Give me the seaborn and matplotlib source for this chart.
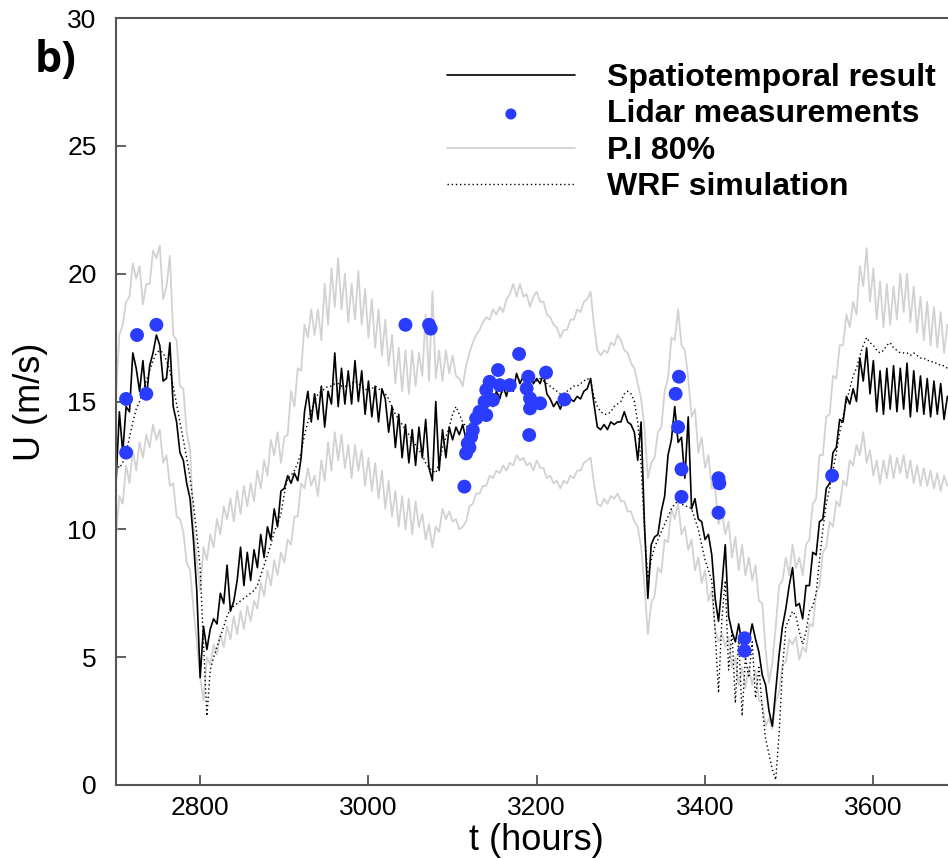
import numpy as np
import pandas as pd
import matplotlib
matplotlib.use("Agg")
import matplotlib.pyplot as plt
import seaborn as sns

# time grid (hours), 4-hour sampling
hours = np.arange(2700, 3692, 4)

spatio = [
    11.8, 14.6, 13.0, 14.8, 14.6, 16.9, 16.3, 15.4, 16.6, 15.1,
    16.4, 16.9, 17.6, 17.2, 15.8, 15.9, 17.3, 14.8, 14.2, 13.0,
    12.7, 11.8, 11.2, 9.6, 7.6, 4.2, 6.2, 5.3, 6.1, 6.5,
    6.3, 7.5, 7.1, 8.6, 6.8, 7.2, 8.0, 9.3, 7.8, 9.1,
    8.0, 9.2, 8.5, 9.8, 8.9, 10.1, 9.6, 10.8, 10.1, 11.5,
    11.6, 12.1, 11.8, 12.2, 11.9, 12.8, 14.6, 15.4, 14.2, 15.3,
    14.3, 15.6, 14.0, 15.4, 14.9, 16.9, 14.8, 16.3, 14.9, 16.2,
    14.9, 16.6, 15.0, 16.2, 14.5, 15.8, 14.4, 15.6, 14.2, 15.5,
    15.1, 13.8, 14.8, 13.2, 14.5, 12.8, 14.1, 12.6, 13.9, 12.5,
    14.0, 12.8, 14.3, 12.4, 11.9, 15.0, 12.3, 13.9, 12.8, 14.0,
    13.5, 14.0, 13.7, 14.1, 13.5, 13.9, 13.8, 14.6, 14.3, 14.9,
    14.7, 15.2, 14.8, 15.4, 15.1, 15.6, 15.2, 15.8, 15.4, 16.1,
    15.7, 16.0, 15.5, 16.1, 15.7, 15.9, 15.7, 16.1, 15.3, 15.1,
    14.8, 15.0, 14.7, 15.1, 14.9, 15.1, 15.0, 15.2, 15.1, 15.4,
    15.5, 15.9, 14.9, 14.0, 13.9, 14.1, 13.9, 14.2, 14.1, 14.2,
    14.2, 14.6, 14.2, 14.1, 13.8, 12.7, 14.2, 10.2, 7.3, 9.4,
    9.7, 9.8, 10.7, 11.3, 12.9, 13.5, 14.8, 13.4, 13.6, 12.0,
    14.4, 10.8, 11.2, 10.4, 10.3, 9.6, 9.8, 9.0, 7.3, 6.4,
    7.8, 9.4, 6.6, 6.0, 5.6, 6.3, 5.5, 5.9, 5.6, 6.3,
    5.7, 5.2, 4.3, 3.9, 2.9, 2.3, 3.7, 5.1, 6.2, 6.9,
    7.8, 8.5, 7.0, 7.1, 6.5, 7.8, 7.8, 9.1, 9.0, 10.3,
    10.4, 11.6, 11.8, 13.0, 13.2, 14.3, 14.2, 15.2, 14.9, 15.5,
    15.0, 16.7, 15.8, 17.1, 15.3, 16.6, 14.6, 16.2, 14.5, 16.3,
    14.7, 16.4, 14.6, 16.3, 14.7, 16.5, 14.4, 16.2, 14.6, 16.0,
    14.5, 15.9, 14.4, 15.8, 14.5, 15.7, 14.3, 15.2,
]

pi_upper = [
    15.2, 17.6, 18.0, 18.9, 19.1, 20.4, 19.8, 20.3, 18.8, 19.6,
    19.6, 20.9, 20.6, 21.1, 19.0, 19.5, 20.7, 17.6, 17.4, 15.6,
    15.5, 13.8, 13.1, 10.2, 8.8, 7.6, 9.3, 8.8, 9.8, 9.3,
    10.4, 9.8, 10.9, 10.4, 11.2, 10.3, 11.5, 10.6, 11.7, 10.9,
    11.8, 11.1, 12.3, 11.6, 12.7, 12.1, 13.5, 12.9, 13.8, 12.6,
    13.6, 13.7, 15.4, 14.8, 16.3, 16.2, 18.0, 17.5, 18.6, 17.6,
    18.6, 17.4, 19.6, 18.0, 20.2, 18.7, 20.6, 18.6, 20.0, 18.1,
    19.6, 18.2, 20.1, 18.0, 19.4, 17.5, 19.0, 17.1, 18.6, 16.8,
    18.2, 16.4, 17.6, 15.7, 17.1, 15.4, 17.0, 15.3, 17.0, 15.6,
    16.9, 16.0, 18.4, 15.8, 19.3, 15.9, 17.0, 15.8, 17.0, 16.1,
    16.8, 16.0, 15.9, 15.6, 16.4, 16.9, 17.3, 17.6, 17.8, 18.1,
    18.3, 18.2, 18.6, 18.4, 18.7, 18.5, 19.0, 19.2, 19.6, 19.1,
    19.6, 19.1, 19.2, 18.7, 19.1, 19.3, 18.9, 18.9, 18.4, 18.3,
    18.0, 17.9, 17.5, 17.8, 17.8, 18.2, 18.2, 18.6, 18.5, 18.9,
    19.0, 19.3, 18.0, 17.0, 16.8, 17.0, 16.9, 17.3, 17.2, 17.6,
    17.4, 17.0, 16.9, 16.5, 16.3, 15.7, 15.1, 14.0, 12.0, 12.6,
    12.8, 13.8, 14.0, 15.4, 15.9, 17.5, 17.4, 18.6, 17.2, 17.0,
    15.9, 14.4, 14.7, 13.0, 13.6, 12.4, 12.9, 11.6, 11.6, 10.2,
    10.7, 9.8, 10.3, 8.9, 9.7, 8.4, 9.4, 8.2, 8.9, 8.0,
    8.6, 7.2, 7.1, 5.3, 4.0, 4.8, 6.2, 7.8, 8.0, 8.9,
    8.2, 9.4, 8.5, 8.9, 8.2, 9.4, 9.6, 11.0, 11.2, 12.9,
    12.9, 14.4, 14.5, 16.0, 15.9, 17.2, 17.2, 18.4, 17.9, 18.9,
    18.4, 20.3, 19.5, 21.0, 18.9, 20.2, 18.2, 19.7, 17.9, 19.6,
    18.0, 19.5, 18.2, 20.0, 18.5, 20.0, 18.1, 19.5, 17.7, 19.1,
    17.4, 18.9, 17.2, 18.7, 17.1, 18.5, 16.9, 18.0,
]

pi_lower = [
    9.7, 11.3, 11.0, 12.5, 11.8, 13.1, 12.3, 13.4, 12.8, 13.7,
    13.2, 14.1, 13.5, 13.9, 12.6, 12.9, 11.7, 11.8, 10.5, 10.4,
    9.9, 8.7, 8.4, 6.9, 5.6, 4.2, 3.3, 5.0, 4.7, 5.5,
    5.1, 5.9, 5.4, 6.2, 5.7, 6.6, 5.9, 6.8, 6.1, 7.0,
    6.4, 7.2, 6.9, 7.9, 7.4, 8.4, 7.8, 8.8, 8.2, 9.1,
    8.7, 9.6, 9.4, 10.5, 10.5, 11.8, 11.6, 12.4, 11.7, 12.1,
    11.3, 12.7, 11.9, 13.4, 12.3, 13.8, 12.7, 13.7, 12.4, 13.3,
    12.0, 13.3, 12.3, 13.1, 11.7, 12.8, 11.5, 12.6, 11.2, 12.3,
    10.8, 11.9, 10.5, 11.5, 10.1, 11.3, 10.0, 11.2, 9.8, 11.1,
    10.1, 10.6, 9.6, 10.2, 9.3, 10.1, 9.9, 10.8, 10.4, 10.7,
    10.3, 10.4, 10.0, 10.1, 10.3, 10.9, 11.0, 11.4, 11.4, 11.7,
    11.7, 12.1, 12.0, 12.3, 12.2, 12.5, 12.3, 12.6, 12.5, 12.9,
    12.7, 12.8, 12.5, 12.6, 12.3, 12.7, 12.4, 12.4, 12.0, 12.1,
    11.8, 11.9, 11.6, 11.9, 11.8, 12.1, 12.0, 12.3, 12.3, 12.6,
    12.7, 12.8, 11.8, 11.0, 10.9, 11.2, 11.0, 11.3, 11.2, 11.4,
    11.1, 11.1, 10.7, 10.7, 10.3, 10.1, 9.3, 7.8, 5.9, 7.1,
    7.4, 8.5, 8.3, 9.6, 9.5, 10.8, 10.4, 11.0, 9.8, 10.1,
    9.2, 9.6, 8.4, 8.9, 7.9, 8.4, 7.2, 7.6, 6.1, 5.6,
    5.9, 5.4, 5.8, 4.6, 5.0, 3.9, 4.6, 3.8, 4.6, 3.9,
    4.5, 3.3, 3.2, 2.3, 2.6, 2.2, 3.3, 3.6, 4.7, 4.8,
    5.7, 5.5, 5.8, 4.9, 5.4, 5.2, 6.3, 6.2, 7.5, 7.8,
    9.1, 9.3, 10.3, 10.1, 11.1, 10.9, 11.9, 11.7, 12.7, 12.5,
    13.3, 12.9, 13.8, 12.6, 13.1, 12.1, 12.7, 11.8, 12.7, 12.0,
    12.9, 12.0, 12.8, 12.2, 12.9, 12.0, 12.7, 11.8, 12.5, 11.7,
    12.4, 11.7, 12.3, 11.6, 12.2, 11.5, 12.1, 11.7,
]

wrf = [
    12.6, 12.4, 12.6, 13.0, 13.6, 14.2, 14.7, 15.0, 15.4, 15.8,
    16.2, 16.6, 16.9, 17.0, 16.9, 16.6, 16.2, 15.6, 14.9, 14.2,
    13.5, 12.8, 12.0, 11.0, 9.8, 8.5, 5.5, 2.7, 4.5, 5.0,
    5.4, 5.8, 6.2, 6.6, 6.9, 7.0, 7.1, 7.2, 7.3, 7.4,
    7.5, 7.6, 7.8, 8.2, 8.6, 9.0, 9.4, 9.9, 10.2, 10.6,
    11.4, 12.0, 12.1, 12.3, 12.6, 13.0, 13.7, 14.2, 14.6, 15.0,
    15.3, 15.4, 15.5, 15.6, 15.6, 15.7, 15.7, 15.6, 15.6, 15.6,
    15.7, 15.8, 15.7, 15.6, 15.5, 15.4, 15.5, 15.6, 15.5, 15.4,
    15.3, 15.1, 14.8, 14.5, 14.3, 14.1, 13.9, 13.7, 13.5, 13.3,
    13.1, 12.9, 12.6, 12.4, 12.3, 12.2, 12.6, 13.2, 13.6, 14.0,
    14.5, 14.8, 14.5, 14.2, 14.0, 14.1, 14.2, 14.3, 14.5, 14.7,
    14.9, 15.0, 15.1, 15.2, 15.3, 15.4, 15.5, 15.6, 15.7, 15.8,
    15.9, 15.9, 15.8, 15.8, 15.7, 15.8, 15.9, 15.8, 15.7, 15.6,
    15.5, 15.4, 15.3, 15.3, 15.4, 15.5, 15.6, 15.6, 15.7, 15.8,
    15.9, 15.8, 15.2, 14.8, 14.6, 14.5, 14.5, 14.6, 14.8, 14.9,
    15.0, 15.3, 15.4, 15.3, 15.0, 14.2, 12.5, 10.0, 8.1, 8.8,
    9.3, 9.6, 9.9, 10.2, 10.5, 10.8, 11.0, 11.1, 11.0, 10.9,
    10.9, 10.8, 10.4, 10.0, 9.4, 8.8, 8.4, 8.0, 6.0, 3.6,
    6.5, 8.0, 4.5, 6.0, 3.2, 5.8, 2.7, 5.0, 4.2, 5.6,
    3.4, 4.6, 3.0, 1.8, 1.2, 0.6, 0.2, 2.0, 4.5, 6.2,
    6.5, 6.8, 6.6, 6.0, 5.5, 6.0, 6.8, 7.0, 7.5, 8.8,
    10.0, 11.0, 11.6, 12.3, 13.0, 13.8, 14.4, 15.0, 15.5, 16.0,
    16.3, 16.8, 17.2, 17.5, 17.3, 17.2, 17.0, 16.9, 17.0, 17.2,
    17.3, 17.1, 17.0, 16.9, 16.9, 16.9, 16.8, 16.9, 16.8, 16.7,
    16.7, 16.6, 16.6, 16.5, 16.5, 16.4, 16.4, 16.3,
]

lidar_t = [2712, 2712, 2725, 2736, 2748, 3044, 3072, 3074,
           3114, 3116, 3118, 3120, 3122, 3124, 3128, 3132,
           3140, 3138, 3148, 3140, 3144, 3154, 3156, 3168,
           3179, 3190, 3188, 3192, 3192, 3204, 3191, 3211, 3233,
           3369, 3365, 3368, 3372, 3372, 3416, 3417, 3416,
           3447, 3447, 3551]
lidar_u = [13.0, 15.1, 17.6, 15.3, 18.0, 18.0, 18.0, 17.85,
           11.67, 12.97, 13.36, 13.2, 13.62, 13.88, 14.34, 14.6,
           14.47, 14.99, 15.06, 15.45, 15.77, 16.23, 15.64, 15.64,
           16.86, 15.97, 15.51, 15.12, 14.73, 14.93, 13.69, 16.13, 15.08,
           15.97, 15.3, 14.0, 12.35, 11.27, 12.0, 11.8, 10.65,
           5.74, 5.25, 12.1]

x_ticks = [2800, 3000, 3200, 3400, 3600]
y_ticks = [0, 5, 10, 15, 20, 25, 30]

df = pd.DataFrame({"t": hours, "spatio": spatio, "upper": pi_upper,
                   "lower": pi_lower, "wrf": wrf})
pts = pd.DataFrame({"t": lidar_t, "u": lidar_u})

sns.set_style("white")
plt.rcParams["font.family"] = ["Liberation Sans", "DejaVu Sans"]
plt.rcParams["text.color"] = "black"
plt.rcParams["axes.labelcolor"] = "black"

fig = plt.figure(figsize=(9.48, 8.58), dpi=100)
ax = fig.add_axes([116 / 948, 73 / 858, 841.5 / 948, 767 / 858])

gray = "#d2d2d2"
sns.lineplot(data=df, x="t", y="upper", ax=ax, color=gray, lw=1.3,
             estimator=None, label="P.I 80%")
sns.lineplot(data=df, x="t", y="lower", ax=ax, color=gray, lw=1.3,
             estimator=None, legend=False)
sns.lineplot(data=df, x="t", y="wrf", ax=ax, color="black", lw=1.0,
             linestyle=(0, (1, 2)), estimator=None, label="WRF simulation")
sns.lineplot(data=df, x="t", y="spatio", ax=ax, color="black", lw=1.2,
             estimator=None, label="Spatiotemporal result")
sns.scatterplot(data=pts, x="t", y="u", ax=ax, color="#2a3cff", marker="o",
                s=100, edgecolor="none", label="Lidar measurements", zorder=5)

ax.set_xlim(2700, 3700)
ax.set_ylim(0, 30)
ax.set_xticks(x_ticks)
ax.set_yticks(y_ticks)
ax.set_xlabel("t (hours)", fontsize=26, labelpad=2, color="black")
ax.set_ylabel("U (m/s)", fontsize=26, labelpad=14, color="black")

for s in ax.spines.values():
    s.set_color("#555555")
    s.set_linewidth(1.5)
ax.tick_params(direction="in", length=7, width=1.3, color="#555555",
               labelcolor="black", labelsize=19,
               left=True, bottom=True, top=False, right=False)
ax.tick_params(axis="x", pad=8)
ax.tick_params(axis="y", pad=14)

handles, labels = ax.get_legend_handles_labels()
hmap = dict(zip(labels, handles))
order = ["Spatiotemporal result", "Lidar measurements", "P.I 80%", "WRF simulation"]
leg = ax.legend([hmap[k] for k in order], order, loc="upper left",
                bbox_to_anchor=(447 / 948, 1 - 63 / 858), bbox_transform=fig.transFigure,
                frameon=False, prop={"weight": "bold", "size": 23},
                handlelength=4.0, handletextpad=1.0, labelspacing=0.2,
                borderpad=0, borderaxespad=0, markerscale=0.8)
for t in leg.get_texts():
    t.set_color("black")

fig.text(35 / 948, 1 - 72 / 858, "b)", fontsize=31, fontweight="bold",
         family=["Open Sans", "DejaVu Sans"], color="black")

fig.savefig("out.png", dpi=100)
